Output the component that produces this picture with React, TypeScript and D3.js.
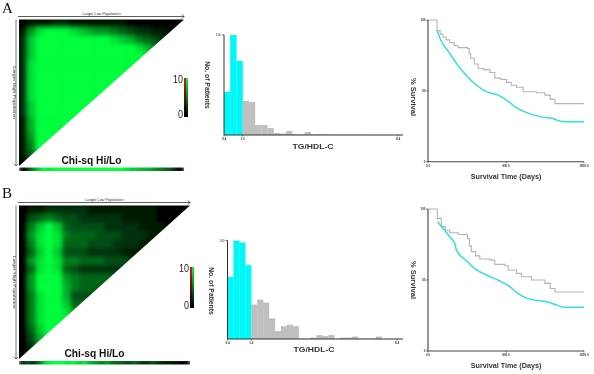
import React from "react";
import * as d3 from "d3";

// heat map values (0-10), one row per band from the top, cut off past the diagonal
const heatA = [
  [0, 1, 1, 1, 2, 2, 1, 1, 1, 1, 1, 1, 1, 0, 0, 0, 0, 0, 0, 0, 0],
  [1, 6, 9, 10, 10, 10, 9, 8, 7, 6, 6, 5, 4, 3, 2, 2, 1, 1, 0, 0, 0],
  [2, 8, 10, 10, 10, 10, 10, 10, 10, 10, 10, 9, 8, 7, 5, 4, 3, 2, 1, 1],
  [2, 8, 10, 10, 10, 10, 10, 10, 10, 10, 10, 10, 10, 10, 9, 7, 5, 4, 2, 2],
  [2, 8, 10, 10, 10, 10, 10, 10, 10, 10, 10, 10, 10, 10, 10, 10, 8, 6, 5],
  [2, 9, 10, 10, 10, 10, 10, 10, 10, 10, 10, 10, 10, 10, 10, 10, 10, 8],
  [2, 9, 10, 10, 10, 10, 10, 10, 10, 10, 10, 10, 10, 10, 10, 10, 10],
  [2, 9, 10, 10, 10, 10, 10, 10, 10, 10, 10, 10, 10, 10, 10, 10],
  [2, 9, 10, 10, 10, 10, 10, 10, 10, 10, 10, 10, 10, 10, 10],
  [2, 9, 10, 10, 10, 10, 10, 10, 10, 10, 10, 10, 10, 10],
  [2, 8, 10, 10, 10, 10, 10, 10, 10, 10, 10, 10, 10],
  [2, 8, 10, 10, 10, 10, 10, 10, 10, 10, 10, 10],
  [1, 7, 10, 10, 10, 10, 10, 10, 10, 10, 10],
  [1, 7, 10, 10, 10, 10, 10, 10, 10, 10],
  [1, 6, 10, 10, 10, 10, 10, 10, 10],
  [1, 5, 10, 10, 10, 10, 10, 10],
  [1, 4, 9, 10, 10, 10, 10],
  [0, 2, 7, 10, 10, 10],
];
const heatB = [
  [0, 1, 1, 2, 2, 2, 2, 2, 1, 1, 1, 1, 1, 1, 1, 1, 0, 0, 0, 0, 0],
  [0, 3, 4, 5, 4, 3, 3, 2, 2, 2, 2, 2, 1, 1, 1, 1, 0, 0, 0, 0, 0],
  [0, 5, 8, 10, 8, 4, 3, 3, 3, 3, 2, 2, 2, 2, 1, 1, 1, 0, 0],
  [0, 6, 9, 10, 9, 5, 4, 4, 4, 3, 3, 3, 2, 2, 2, 1, 1, 1],
  [0, 5, 9, 10, 9, 4, 4, 4, 3, 3, 3, 2, 2, 2, 1, 1, 1],
  [0, 4, 8, 10, 8, 3, 3, 3, 2, 2, 2, 2, 1, 1, 1, 1],
  [0, 6, 9, 10, 9, 5, 5, 4, 4, 4, 3, 3, 3, 2, 2],
  [0, 4, 9, 10, 9, 4, 3, 2, 2, 2, 2, 2, 2, 1],
  [0, 6, 10, 10, 10, 6, 5, 4, 4, 4, 4, 3, 3],
  [0, 6, 10, 10, 10, 7, 5, 4, 4, 4, 3, 3],
  [0, 5, 9, 10, 10, 7, 3, 3, 3, 3, 3],
  [0, 5, 9, 10, 10, 8, 4, 4, 4, 4],
  [0, 5, 9, 10, 10, 9, 6, 5, 6],
  [0, 5, 9, 10, 10, 10, 8, 7],
  [0, 4, 8, 10, 10, 10, 10],
  [0, 3, 7, 10, 10, 10],
  [0, 2, 6, 9, 10],
  [0, 0, 3, 6],
];

const stripA = [0, 1, 5, 8, 10, 9, 10, 10, 10, 10, 10, 10, 10, 10, 10, 10, 10, 10, 10, 9, 8, 8, 7, 7, 6, 5, 4, 3, 1, 0];
const stripB = [1, 3, 2, 4, 8, 10, 10, 10, 9, 10, 8, 9, 7, 6, 5, 6, 4, 4, 3, 3, 4, 2, 2, 3, 2, 1, 1, 1, 0, 0];

const countsA = [43, 100, 74, 34, 33, 10, 10, 7, 2, 1.5, 4, 1, 0.5, 3, 0.5, 1, 0.5, 0.2, 0.5, 0.5, 0.3, 0.5, 0.2];
const countsB = [63, 100, 98, 75, 35, 40, 37, 21, 8, 13, 14.5, 13, 0.5, 0.3, 1.5, 4, 3, 4, 0.3, 1.5, 1.5, 2.5, 0.3, 0.3, 0.3, 2.5];
const cyanBinsA = 3;
const cyanBinsB = 4;
const binWidthA = 0.285;
const binWidthB = 0.28;

const grayDaysA = [0, 88, 104, 140, 173, 210, 250, 300, 347, 455, 475, 493, 535, 578, 640, 713, 771, 840, 906, 960, 1021, 1098, 1253, 1349, 1410, 1465, 1800];
const grayPctA = [100, 100, 92.5, 90, 88, 86, 84, 82, 80.5, 80, 76, 73, 69, 66, 65, 63, 59, 58, 56, 54, 52.5, 49.4, 48.7, 47, 44, 41, 41];
const cyanDaysA = [104, 154, 250, 328, 424, 540, 655, 809, 906, 1021, 1137, 1291, 1426, 1561, 1800];
const cyanPctA = [92.5, 85, 76.5, 69.4, 62, 55, 50, 47, 43.5, 38, 34.6, 31.8, 30.6, 28.2, 28.2];

const grayDaysB = [0, 88, 108, 154, 200, 250, 347, 455, 478, 500, 550, 597, 713, 771, 886, 925, 1021, 1079, 1195, 1349, 1410, 1465, 1800];
const grayPctB = [100, 100, 93.4, 87.6, 85, 83.3, 82, 79, 74, 70, 67, 64.8, 64, 61, 60, 57, 54.7, 52.3, 50, 47.6, 44, 41.5, 41.5];
const cyanDaysB = [108, 173, 250, 308, 328, 443, 540, 674, 829, 944, 1021, 1117, 1214, 1368, 1484, 1561, 1800];
const cyanPctB = [91, 86.4, 80.5, 75.8, 71, 63.6, 58, 53.5, 49.3, 45.3, 41.3, 37.8, 36, 34.7, 32.4, 30.8, 30.8];

const barTicks = [0.4, 1.2, 8.4];
const survivalTicks = [0, 900, 1800];
const pctTicks = [0, 50, 100];

const green = "#00ff3c";
const heatColor = d3.scaleLinear<string>().domain([0, 10]).range(["#000000", green]);
const sans = "'Liberation Sans', Arial, sans-serif";

function HeatMap({ id, rows, strip, x0, x1, y0, y1, stripY, blur }: any) {
  const cols = d3.range(21);
  const xs = d3.scaleBand<number>().domain(cols).range([x0, x0 + ((x1 - x0) * 21) / 20]);
  const ys = d3.scaleBand<number>().domain(d3.range(rows.length)).range([y0, y1]);
  const sx = d3.scaleBand<number>().domain(d3.range(strip.length)).range([x0, x1]);
  const mid = (x0 + x1) / 2;
  return (
    <g>
      <defs>
        <clipPath id={`tri-${id}`}>
          <path d={`M${x0},${y0}L${x1},${y0}L${x0},${y1}Z`} />
        </clipPath>
        <clipPath id={`strip-${id}`}>
          <rect x={x0} y={stripY} width={x1 - x0} height={3.6} />
        </clipPath>
        <filter id={`blur-${id}`} x="-10%" y="-10%" width="120%" height="120%">
          <feGaussianBlur stdDeviation={blur} />
        </filter>
      </defs>
      <g clipPath={`url(#tri-${id})`}>
        <g filter={`url(#blur-${id})`}>
          <rect x={x0 - 12} y={y0 - 12} width={x1 - x0 + 24} height={y1 - y0 + 24} fill="#000" />
          {rows.map((row: number[], r: number) =>
            cols.map((c) => (
              // past the diagonal the last value carries on, the clip cuts it off
              <rect key={`${r}-${c}`} x={xs(c)} y={ys(r)} width={xs.bandwidth() + 0.5} height={ys.bandwidth() + 0.5} fill={heatColor(row[Math.min(c, row.length - 1)])} />
            ))
          )}
        </g>
      </g>
      <g clipPath={`url(#strip-${id})`}>
        <g filter={`url(#blur-${id})`}>
          {strip.map((v: number, i: number) => (
            <rect key={i} x={sx(i)} y={stripY - 3} width={sx.bandwidth() + 0.5} height={10} fill={heatColor(v)} />
          ))}
        </g>
      </g>
      {/* arrows round the triangle */}
      <path d={`M${x0 - 1},${y0 - 3}H${x1}M${x1 - 2},${y0 - 5}L${x1},${y0 - 3}L${x1 - 2},${y0 - 1}`} fill="none" stroke="#333" strokeWidth={0.8} />
      <path d={`M${x0 - 3},${y0}V${y1}M${x0 - 5},${y1 - 2}L${x0 - 3},${y1}L${x0 - 1},${y1 - 2}`} fill="none" stroke="#555" strokeWidth={0.8} />
      <text x={mid} y={y0 - 4.5} fontSize={3.8} textAnchor="middle" fontFamily={sans} fill="#333">Larger Low Population</text>
      <text transform={`translate(${x0 - 6.5},${(y0 + y1) / 2}) rotate(90)`} fontSize={4} textAnchor="middle" fontFamily={sans} fill="#333" textLength={53} lengthAdjust="spacingAndGlyphs">Larger High Population</text>
      <text x={mid - 10} y={y1 - 2} fontSize={10.2} fontWeight="bold" textAnchor="middle" fontFamily={sans} fill="#111">Chi-sq Hi/Lo</text>
    </g>
  );
}

function ColorBar({ id, x, y0, y1 }: any) {
  return (
    <g>
      <defs>
        <linearGradient id={`bar-g-${id}`} x1="0" y1="1" x2="0" y2="0">
          <stop offset="0.05" stopColor="#000" />
          <stop offset="1" stopColor={green} />
        </linearGradient>
        <linearGradient id={`bar-r-${id}`} x1="0" y1="1" x2="0" y2="0">
          <stop offset="0.05" stopColor="#000" />
          <stop offset="1" stopColor="#d01818" />
        </linearGradient>
      </defs>
      <rect x={x} y={y0} width={2} height={y1 - y0} fill={`url(#bar-r-${id})`} />
      <rect x={x + 2} y={y0} width={2} height={y1 - y0} fill={`url(#bar-g-${id})`} />
      <text x={x - 1} y={y0 + 5} fontSize={11} textAnchor="end" fontFamily={sans} fill="#222" textLength={10} lengthAdjust="spacingAndGlyphs">10</text>
      <text x={x - 1} y={y1 + 1} fontSize={11} textAnchor="end" fontFamily={sans} fill="#222" textLength={5} lengthAdjust="spacingAndGlyphs">0</text>
    </g>
  );
}

function Histogram({ counts, cyanBins, binWidth, left, right, end, top, base, labelX, titleX, titleY, labelY }: any) {
  const x = d3.scaleLinear().domain([0.4, 8.4]).range([left, end]);
  const y = d3.scaleLinear().domain([0, 100]).range([base, top]);
  const tickMid = cyanBins * binWidth + 0.4;
  return (
    <g fontFamily={sans}>
      {counts.map((v: number, i: number) => {
        const a = x(0.4 + i * binWidth);
        const b = x(0.4 + (i + 1) * binWidth);
        return <rect key={i} x={a} y={y(v)} width={b - a + 0.2} height={base - y(v)} fill={i < cyanBins ? "#00f8f8" : "#bfbfbf"} />;
      })}
      <path d={`M${left},${top}V${base}H${right}`} fill="none" stroke="#333" strokeWidth={1} />
      <path d={`M${left - 2},${top}H${left}`} stroke="#333" strokeWidth={0.7} />
      <text x={left - 3} y={top + 1} fontSize={3} textAnchor="end" fill="#333">100</text>
      {barTicks.map((t, i) => {
        const px = i === 1 ? x(tickMid) : x(t);
        return (
          <g key={t}>
            <path d={`M${px},${base}v1.5`} stroke="#333" strokeWidth={0.6} />
            <text x={px} y={base + 4.5} fontSize={3} textAnchor="middle" fontWeight="bold" fill="#333">{t.toFixed(1)}</text>
          </g>
        );
      })}
      <text x={labelX} y={labelY} fontSize={6.5} fontWeight="bold" textAnchor="middle" fill="#333" textLength={41} lengthAdjust="spacingAndGlyphs">TG/HDL-C</text>
      <text transform={`translate(${titleX},${titleY}) rotate(90)`} fontSize={6.8} fontWeight="bold" textAnchor="middle" fill="#333">No. of Patients</text>
    </g>
  );
}

function Survival({ grayDays, grayPct, cyanDays, cyanPct, left, right, top, base, titleX, titleY, labelY }: any) {
  const x = d3.scaleLinear().domain([0, 1800]).range([left, right]);
  const y = d3.scaleLinear().domain([0, 100]).range([base, top]);
  const stepped = d3.line<number>().x((d) => x(d)).y((_, i) => y(grayPct[i])).curve(d3.curveStepAfter);
  const smooth = d3.line<number>().x((d) => x(d)).y((_, i) => y(cyanPct[i])).curve(d3.curveMonotoneX);
  return (
    <g fontFamily={sans}>
      <path d={stepped(grayDays) || ""} fill="none" stroke="#b4b4b4" strokeWidth={1.1} />
      <path d={smooth(cyanDays) || ""} fill="none" stroke="#2fe3d3" strokeWidth={1.5} />
      <path d={`M${left},${top}V${base}H${right}`} fill="none" stroke="#444" strokeWidth={1.1} />
      {pctTicks.map((t) => (
        <g key={t}>
          <path d={`M${left - 2},${y(t)}H${left}`} stroke="#333" strokeWidth={0.6} />
          <text x={left - 2.5} y={y(t) + 1} fontSize={3} textAnchor="end" fontWeight="bold" fill="#333">{t}</text>
        </g>
      ))}
      {survivalTicks.map((t) => (
        <g key={t}>
          <path d={`M${x(t)},${base}v1.5`} stroke="#333" strokeWidth={0.6} />
          <text x={x(t)} y={base + 5} fontSize={3} textAnchor="middle" fontWeight="bold" fill="#333">{t.toFixed(1)}</text>
        </g>
      ))}
      <text x={(left + right) / 2} y={labelY} fontSize={7.2} fontWeight="bold" textAnchor="middle" fill="#333">Survival Time (Days)</text>
      <text transform={`translate(${titleX},${titleY}) rotate(90)`} fontSize={7.5} fontWeight="bold" textAnchor="middle" fill="#333">% Survival</text>
    </g>
  );
}

export default function App() {
  return (
    <svg width={594} height={374} style={{ position: "absolute", left: 0, top: 0, background: "#fff" }}>
      <defs>
        {/* the reference is a soft scan, everything sits slightly out of focus */}
        <filter id="soft" x="0" y="0" width="100%" height="100%">
          <feGaussianBlur stdDeviation={0.4} />
        </filter>
      </defs>
      <g filter="url(#soft)">
        <rect width={594} height={374} fill="#fff" />
        <text x={2} y={13} fontSize={15} fontFamily="'Liberation Serif', serif" fill="#111">A</text>
        <text x={2} y={198} fontSize={15} fontFamily="'Liberation Serif', serif" fill="#111">B</text>

        <HeatMap id="a" rows={heatA} strip={stripA} x0={19} x1={184} y0={19.5} y1={166} stripY={167.5} blur={2} />
        <HeatMap id="b" rows={heatB} strip={stripB} x0={19} x1={190} y0={205.5} y1={359} stripY={361} blur={2} />
        <ColorBar id="a" x={184} y0={78} y1={117} />
        <ColorBar id="b" x={190} y0={267} y1={308} />

        <Histogram counts={countsA} cyanBins={cyanBinsA} binWidth={binWidthA} left={224} right={403} end={398} top={35} base={135} labelX={313} labelY={149} titleX={205} titleY={85} />
        <Histogram counts={countsB} cyanBins={cyanBinsB} binWidth={binWidthB} left={227.5} right={403} end={397} top={240.5} base={339} labelX={314} labelY={352} titleX={209} titleY={291} />

        <Survival grayDays={grayDaysA} grayPct={grayPctA} cyanDays={cyanDaysA} cyanPct={cyanPctA} left={428} right={584} top={20} base={161.7} titleX={411} titleY={97} labelY={179} />
        <Survival grayDays={grayDaysB} grayPct={grayPctB} cyanDays={cyanDaysB} cyanPct={cyanPctB} left={428} right={584} top={209} base={351} titleX={411} titleY={280} labelY={368} />
      </g>
    </svg>
  );
}
